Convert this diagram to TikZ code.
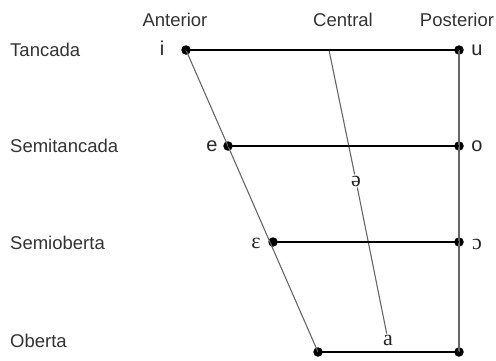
\documentclass[tikz,border=0pt]{standalone}
\usepackage{fontspec}
\setmainfont{Liberation Sans}
\newfontfamily\ipafont{Liberation Serif}
\begin{document}
\begin{tikzpicture}[x=1pt,y=-1pt,
  dot/.style={circle,fill=black,inner sep=0pt,minimum size=9.5pt},
  lbl/.style={font=\fontsize{18.5}{20}\selectfont,text=black!80,inner sep=1pt},
  vow/.style={font=\fontsize{20}{22}\selectfont,text=black!85,inner sep=1pt},
  ipa/.style={font=\ipafont\fontsize{22}{24}\selectfont,text=black!85,inner sep=1pt},
  hline/.style={line width=2.8pt,black},
  gline/.style={line width=1.1pt,black!60}]
\useasboundingbox (0,0) rectangle (496,360);
% headings
\node[lbl] (hant) at (175,20) {Anterior};
\node[lbl] (hcen) at (343,20) {Central};
\node[lbl] (hpos) at (457,20) {Posterior};
% row labels
\node[lbl,anchor=west] (rt) at (9,50) {Tancada};
\node[lbl,anchor=west] (rst) at (9,146) {Semitancada};
\node[lbl,anchor=west] (rso) at (9,243) {Semioberta};
\node[lbl,anchor=west] (ro) at (9,341) {Oberta};
% dots
\node[dot] (i) at (186,50) {};
\node[dot] (u) at (459,50) {};
\node[dot] (e) at (228,146) {};
\node[dot] (o) at (459,146) {};
\node[dot] (eps) at (273,242) {};
\node[dot] (oo) at (459,242) {};
\node[dot] (al) at (318,352) {};
\node[dot] (ar) at (459,352) {};
% vowel labels
\node[vow] (ti) at (162,48) {i};
\node[vow] (te) at (212,146) {e};
\node[ipa] (teps) at (256,243) {ɛ};
\node[vow] (tu) at (477,50) {u};
\node[vow] (to) at (477,146) {o};
\node[ipa] (too) at (477,244) {ɔ};
\node[ipa] (tschwa) at (356,181) {ə};
\node[ipa] (ta) at (388,340) {a};
\coordinate (ctop) at (329,50);
% gray lines
\draw[gline] (i.center) -- (al.center);
\draw[gline] (u.center) -- (ar.center);
\draw[gline] (ctop) -- (tschwa);
\draw[gline] (tschwa) -- (ta);
% black lines
\draw[hline] (i.center) -- (u.center);
\draw[hline] (e.center) -- (o.center);
\draw[hline] (eps.center) -- (oo.center);
\draw[hline] (al.center) -- (ar.center);
\end{tikzpicture}
\end{document}
